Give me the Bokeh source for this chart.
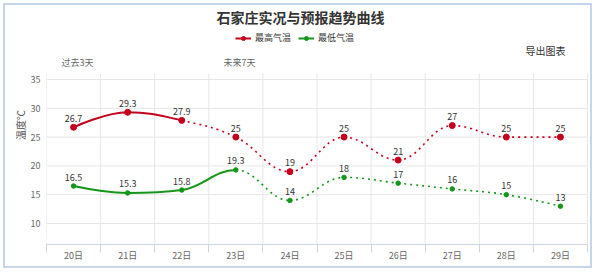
from bokeh.plotting import figure
from bokeh.models import (ColumnDataSource, FixedTicker, Label, Legend, LegendItem, Range1d)
from bokeh.core.properties import value
from bokeh.embed import file_html
from bokeh.resources import INLINE

# ---------------- data ----------------
days = ["20日", "21日", "22日", "23日", "24日", "25日", "26日", "27日", "28日", "29日"]
high = [26.7, 29.3, 27.9, 25, 19, 25, 21, 27, 25, 25]
low = [16.5, 15.3, 15.8, 19.3, 14, 18, 17, 16, 15, 13]
high_label = ["26.7", "29.3", "27.9", "25", "19", "25", "21", "27", "25", "25"]
low_label = ["16.5", "15.3", "15.8", "19.3", "14", "18", "17", "16", "15", "13"]
high_observed_last = 2   # index of last observed point (solid up to here)
low_observed_last = 3
y_ticks = [10, 15, 20, 25, 30, 35]
y_min, y_max = 6.35, 36.04
title_text = "石家庄实况与预报趋势曲线"
series_names = ["最高气温", "最低气温"]
y_title = "温度℃"
past_text = "过去3天"
future_text = "未来7天"
export_text = "导出图表"

RED = "#c4001c"
GREEN = "#15961a"
FONT = "Noto Sans CJK SC"
GRID = "#e6e6e6"

# ---------------- layout (page pixels) ----------------
OFF = 5                      # canvas starts at page (5, 5) inside a 2px border
CW, CH = 589, 265            # canvas size
FL, FB = 46, 244             # data-area left / bottom in page pixels
DX0, DX1 = 46, 587           # data-area horizontal extent in page pixels
DT = 73                      # data-area top in page pixels

n = len(days)
px_per_x = (DX1 - DX0) / n
px_per_y = (FB - DT) / (y_max - y_min)
x_lo = -0.5
x_hi = -0.5 + (CW + OFF - FL) / px_per_x
y_top = y_max + (DT - OFF) / px_per_y


def sx(page_x):
    return page_x - FL


def sy(page_y):
    return FB - page_y


def spline_segments(xs, ys):
    """Highcharts-style spline control points (smoothing 1.5)."""
    m = len(xs)
    sm = 1.5
    den = sm + 1
    lc = [None] * m
    rc = [None] * m
    for i in range(m):
        x, y = xs[i], ys[i]
        if 0 < i < m - 1:
            lx, ly = xs[i - 1], ys[i - 1]
            nx, ny = xs[i + 1], ys[i + 1]
            lcx = (sm * x + lx) / den
            lcy = (sm * y + ly) / den
            rcx = (sm * x + nx) / den
            rcy = (sm * y + ny) / den
            corr = 0
            if rcx != lcx:
                corr = (rcy - lcy) * (rcx - x) / (rcx - lcx) + y - rcy
            lcy += corr
            rcy += corr
            if lcy > ly and lcy > y:
                lcy = max(ly, y)
                rcy = 2 * y - lcy
            elif lcy < ly and lcy < y:
                lcy = min(ly, y)
                rcy = 2 * y - lcy
            if rcy > ny and rcy > y:
                rcy = max(ny, y)
                lcy = 2 * y - rcy
            elif rcy < ny and rcy < y:
                rcy = min(ny, y)
                lcy = 2 * y - rcy
            lc[i] = (lcx, lcy)
            rc[i] = (rcx, rcy)
        else:
            lc[i] = (x, y)
            rc[i] = (x, y)
    segs = []
    for i in range(m - 1):
        segs.append(dict(x0=xs[i], y0=ys[i], x1=xs[i + 1], y1=ys[i + 1],
                         cx0=rc[i][0], cy0=rc[i][1], cx1=lc[i + 1][0], cy1=lc[i + 1][1]))
    return segs


def seg_sources(xs, ys, split):
    segs = spline_segments(xs, ys)
    keys = ["x0", "y0", "x1", "y1", "cx0", "cy0", "cx1", "cy1"]
    solid = {k: [s[k] for j, s in enumerate(segs) if j < split] for k in keys}
    dotted = {k: [s[k] for j, s in enumerate(segs) if j >= split] for k in keys}
    return ColumnDataSource(solid), ColumnDataSource(dotted)


xs = list(range(n))
bounds = [x - 0.5 for x in xs] + [xs[-1] + 0.5]

p = figure(width=CW, height=CH, output_backend="svg", toolbar_location=None,
           x_range=Range1d(x_lo, x_hi), y_range=Range1d(y_min, y_top),
           min_border_left=FL - OFF, min_border_right=0,
           min_border_top=0, min_border_bottom=CH - (FB - OFF))
p.styles = {"border": "2px solid #c5d6ea", "margin-left": "3px", "margin-top": "3px"}
p.outline_line_color = None
p.background_fill_color = "white"
p.border_fill_color = "white"
p.xgrid.visible = False
p.ygrid.visible = False

# grid lines within the data area
p.segment(x0=bounds, y0=[y_min] * len(bounds), x1=bounds, y1=[y_max] * len(bounds),
          line_color=GRID, line_width=1)
p.segment(x0=[bounds[0]] * len(y_ticks), y0=y_ticks, x1=[bounds[-1]] * len(y_ticks),
          y1=y_ticks, line_color=GRID, line_width=1)

# axes
p.xaxis.ticker = FixedTicker(ticks=xs, minor_ticks=bounds)
p.xaxis.bounds = (bounds[0], bounds[-1])
p.xaxis.major_label_overrides = {i: d for i, d in enumerate(days)}
p.xaxis.major_tick_line_color = None
p.xaxis.major_tick_out = 0
p.xaxis.major_tick_in = 0
p.xaxis.minor_tick_line_color = "#ccd6eb"
p.xaxis.minor_tick_out = 8
p.xaxis.minor_tick_in = 0
p.xaxis.axis_line_color = "#ccd6eb"
p.xaxis.major_label_standoff = -4
p.xaxis.major_label_text_font = FONT
p.xaxis.major_label_text_font_size = "9px"
p.xaxis.major_label_text_color = "#666666"

p.yaxis.ticker = FixedTicker(ticks=y_ticks)
p.yaxis.axis_line_color = None
p.yaxis.major_tick_line_color = None
p.yaxis.minor_tick_line_color = None
p.yaxis.major_tick_out = 0
p.yaxis.major_tick_in = 0
p.yaxis.minor_tick_out = 0
p.yaxis.minor_tick_in = 0
p.yaxis.major_label_standoff = 6
p.yaxis.major_label_text_font = FONT
p.yaxis.major_label_text_font_size = "9px"
p.yaxis.major_label_text_color = "#666666"
p.yaxis.axis_label = y_title
p.yaxis.axis_label_standoff = 0
p.yaxis.axis_label_text_font = FONT
p.yaxis.axis_label_text_font_size = "10px"
p.yaxis.axis_label_text_font_style = "normal"
p.yaxis.axis_label_text_color = "#555555"

# series
solid_renderers = []
for vals, split, color in [(high, high_observed_last, RED),
                           (low, low_observed_last, GREEN)]:
    s_src, d_src = seg_sources(xs, vals, split)
    r = p.bezier(x0="x0", y0="y0", x1="x1", y1="y1", cx0="cx0", cy0="cy0",
                 cx1="cx1", cy1="cy1", source=s_src, line_color=color, line_width=2)
    solid_renderers.append(r)
    p.bezier(x0="x0", y0="y0", x1="x1", y1="y1", cx0="cx0", cy0="cy0",
             cx1="cx1", cy1="cy1", source=d_src, line_color=color, line_width=1.6,
             line_dash="2 4")

pt_src_h = ColumnDataSource(dict(x=xs, y=high, t=high_label))
pt_src_l = ColumnDataSource(dict(x=xs, y=low, t=low_label))
sh = p.scatter("x", "y", source=pt_src_h, size=6, color=RED)
sl = p.scatter("x", "y", source=pt_src_l, size=4.5, color=GREEN)
for src in (pt_src_h, pt_src_l):
    p.text("x", "y", text="t", source=src, y_offset=-9, text_align="center",
           text_baseline="middle", text_font=value(FONT), text_font_size="9px",
           text_color="#333333")

# legend
legend = Legend(items=[LegendItem(label=series_names[0], renderers=[solid_renderers[0], sh]),
                       LegendItem(label=series_names[1], renderers=[solid_renderers[1], sl])],
                orientation="horizontal", location=(sx(235), sy(44)),
                glyph_width=16, glyph_height=10, label_standoff=4, spacing=7,
                padding=0, margin=0, label_height=10,
                border_line_color=None, background_fill_alpha=0,
                label_text_font=FONT, label_text_font_size="9px",
                label_text_color="#333333")
p.add_layout(legend)


def add_label(text, page_x, page_y, size, color, bold=False):
    p.add_layout(Label(x=sx(page_x), y=sy(page_y), x_units="screen", y_units="screen",
                       text=text, text_align="center", text_baseline="middle",
                       text_font=FONT, text_font_size=size, text_color=color,
                       text_font_style="bold" if bold else "normal"))


add_label(title_text, 300, 16.5, "14px", "#333333", bold=True)
add_label(export_text, 545, 50, "10px", "#333333")
add_label(past_text, 77, 62, "9px", "#666666")
add_label(future_text, 239, 62, "9px", "#666666")

open("out.html", "w").write(file_html(p, INLINE))
